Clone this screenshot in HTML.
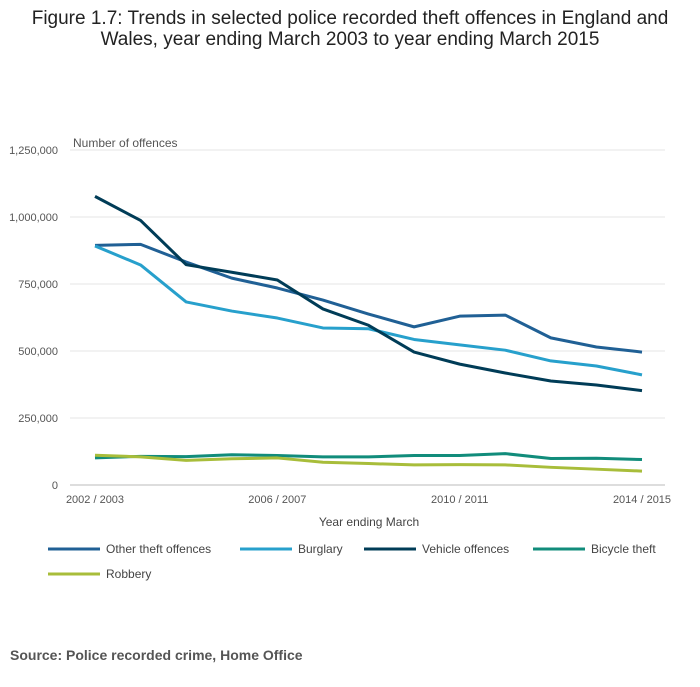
<!DOCTYPE html>
<html><head><meta charset="utf-8"><style>
body{margin:0;background:#fff;width:700px;height:682px;overflow:hidden;font-family:"Liberation Sans",sans-serif;}
</style></head><body>
<svg width="700" height="682" font-family="Liberation Sans, sans-serif">
<text x="350" y="24" text-anchor="middle" font-size="19" fill="#222">Figure 1.7: Trends in selected police recorded theft offences in England and</text>
<text x="350" y="45" text-anchor="middle" font-size="19" fill="#222">Wales, year ending March 2003 to year ending March 2015</text>
<text x="73" y="147" font-size="12" fill="#555">Number of offences</text>
<g id="grid"></g><g id="series"></g><g id="xt"></g>
<text x="369" y="526" text-anchor="middle" font-size="12" fill="#444">Year ending March</text>
<g id="legend"></g>
<text x="10" y="660" font-size="14" font-weight="bold" fill="#555">Source: Police recorded crime, Home Office</text>
</svg>
<script>
const years=["2002 / 2003","2003 / 2004","2004 / 2005","2005 / 2006","2006 / 2007","2007 / 2008","2008 / 2009","2009 / 2010","2010 / 2011","2011 / 2012","2012 / 2013","2013 / 2014","2014 / 2015"];
const yTicks=[0,250000,500000,750000,1000000,1250000];
const xTickIdx=[0,4,8,12];
const otherTheft=[894000,898000,832000,772000,735000,690000,638000,590000,630000,634000,549000,515000,496000];
const burglary=[892000,821000,683000,649000,623000,586000,583000,543000,523000,503000,463000,444000,411000];
const vehicle=[1077000,987000,822000,794000,765000,657000,596000,496000,451000,418000,388000,373000,352000];
const bicycle=[101000,107000,106000,113000,110000,105000,105000,110000,110000,117000,99000,100000,95000];
const robbery=[111000,105000,92000,98000,101000,85000,80000,75000,76000,75000,66000,59000,52000];
const names=["Other theft offences","Burglary","Vehicle offences","Bicycle theft","Robbery"];
const colors=["#206095","#27a0cc","#003c57","#118c7b","#a8bd3a"];
const all=[otherTheft,burglary,vehicle,bicycle,robbery];
const NS="http://www.w3.org/2000/svg";
const X=i=>95+i*(642-95)/12;
const Y=v=>485-v*(335/1250000);
function mk(t,a,p){const e=document.createElementNS(NS,t);for(const k in a)e.setAttribute(k,a[k]);p.appendChild(e);return e;}
const g=document.getElementById('grid');
yTicks.forEach(v=>{
 const l=mk('line',{x1:70,x2:665,y1:Y(v),y2:Y(v),stroke:v===0?'#bbb':'#e6e6e6'},g);
 
 
 const t=mk('text',{x:58,y:Y(v)+4,'text-anchor':'end','font-size':11,fill:'#555'},g);
 t.textContent=v.toLocaleString('en-GB');
 
 
});
const xt=document.getElementById('xt');
xTickIdx.forEach(i=>{
 const t=mk('text',{x:X(i),y:503,'text-anchor':'middle','font-size':11,fill:'#555'},xt);
 t.textContent=years[i];
 
 
});
const s=document.getElementById('series');
all.forEach((d,k)=>{
 const p=mk('polyline',{points:d.map((v,i)=>X(i)+','+Y(v)).join(' '),fill:'none',stroke:colors[k],'stroke-width':3,'stroke-linejoin':'round'},s);
 
 
});
const lg=document.getElementById('legend');
const pos=[[48,549],[240,549],[364,549],[533,549],[48,574]];
names.forEach((n,k)=>{
 const [x,y]=pos[k];
 const l=mk('line',{x1:x,x2:x+52,y1:y,y2:y,stroke:colors[k],'stroke-width':3},lg);
 
 
 const t=mk('text',{x:x+58,y:y+4,'font-size':12,fill:'#444'},lg);
 t.textContent=n;
 
 
});
</script>
</body></html>
